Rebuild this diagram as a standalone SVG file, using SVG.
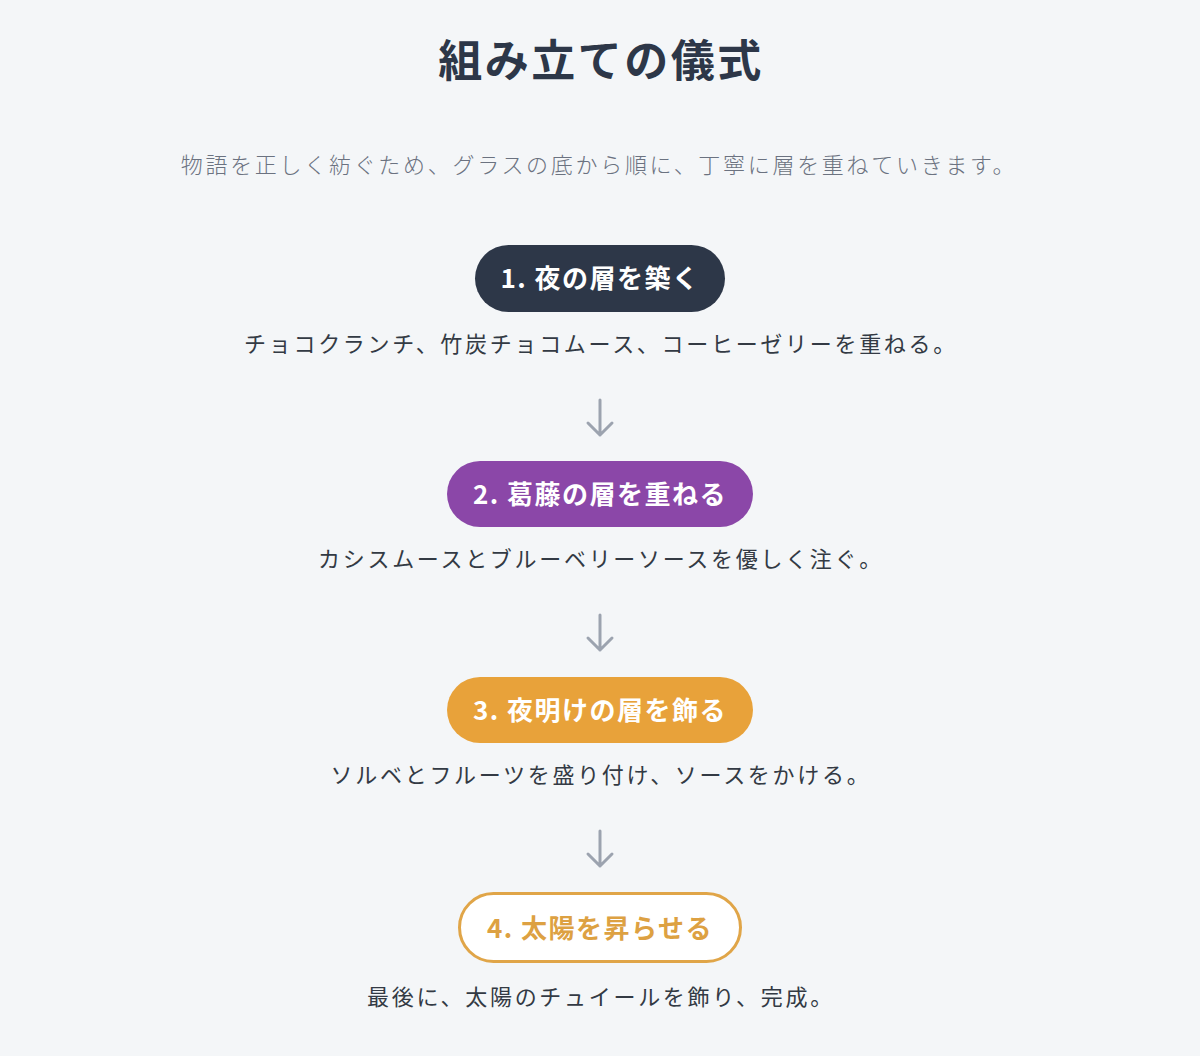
<svg xmlns="http://www.w3.org/2000/svg" width="1200" height="1056" viewBox="0 0 1200 1056">
  <defs>
    <style>
      .jp { font-family: "Noto Sans CJK JP", "Noto Sans", sans-serif; }
      .title { font-size: 44px; font-weight: 700; fill: #2d3748; letter-spacing: 2.5px; }
      .sub { font-size: 22px; font-weight: 300; fill: #6b7280; letter-spacing: 2.7px; }
      .pilltxt { font-size: 26px; font-weight: 700; letter-spacing: 1.5px; }
      .desc { font-size: 22px; font-weight: 400; fill: #333a44; letter-spacing: 2.7px; }
      .arrow { fill: none; stroke: #9ca3af; stroke-width: 3; stroke-linecap: round; stroke-linejoin: round; }
    </style>
  </defs>
  <rect width="1200" height="1056" fill="#f4f6f8"/>

  <g id="header">
    <text class="jp title" x="601" y="77" text-anchor="middle">組み立ての儀式</text>
    <text class="jp sub" x="599" y="173" text-anchor="middle">物語を正しく紡ぐため、グラスの底から順に、丁寧に層を重ねていきます。</text>
  </g>

  <g id="step1">
    <rect x="475" y="245" width="250" height="67" rx="33.5" fill="#2d3748"/>
    <text class="jp pilltxt" x="600" y="288" text-anchor="middle" fill="#ffffff">1. 夜の層を築く</text>
    <text class="jp desc" x="601" y="352" text-anchor="middle">チョコクランチ、竹炭チョコムース、コーヒーゼリーを重ねる。</text>
  </g>

  <g id="step2">
    <rect x="447" y="461" width="306" height="66" rx="33" fill="#8b47a8"/>
    <text class="jp pilltxt" x="600" y="504" text-anchor="middle" fill="#ffffff">2. 葛藤の層を重ねる</text>
    <text class="jp desc" x="601" y="567" text-anchor="middle">カシスムースとブルーベリーソースを優しく注ぐ。</text>
  </g>

  <g id="step3">
    <rect x="447" y="677" width="306" height="66" rx="33" fill="#e8a23a"/>
    <text class="jp pilltxt" x="600" y="720" text-anchor="middle" fill="#ffffff">3. 夜明けの層を飾る</text>
    <text class="jp desc" x="601" y="783" text-anchor="middle">ソルベとフルーツを盛り付け、ソースをかける。</text>
  </g>

  <g id="step4">
    <rect x="459.5" y="893.5" width="281" height="68" rx="34" fill="#ffffff" stroke="#e0a548" stroke-width="3"/>
    <text class="jp pilltxt" x="600" y="938" text-anchor="middle" fill="#dda142">4. 太陽を昇らせる</text>
    <text class="jp desc" x="601" y="1005" text-anchor="middle">最後に、太陽のチュイールを飾り、完成。</text>
  </g>

  <g id="connectors">
    <path class="arrow" d="M600 400 V435 M588 423 L600 435 L612 423"/>
    <path class="arrow" d="M600 615 V650 M588 638 L600 650 L612 638"/>
    <path class="arrow" d="M600 831 V866 M588 854 L600 866 L612 854"/>
  </g>
</svg>
